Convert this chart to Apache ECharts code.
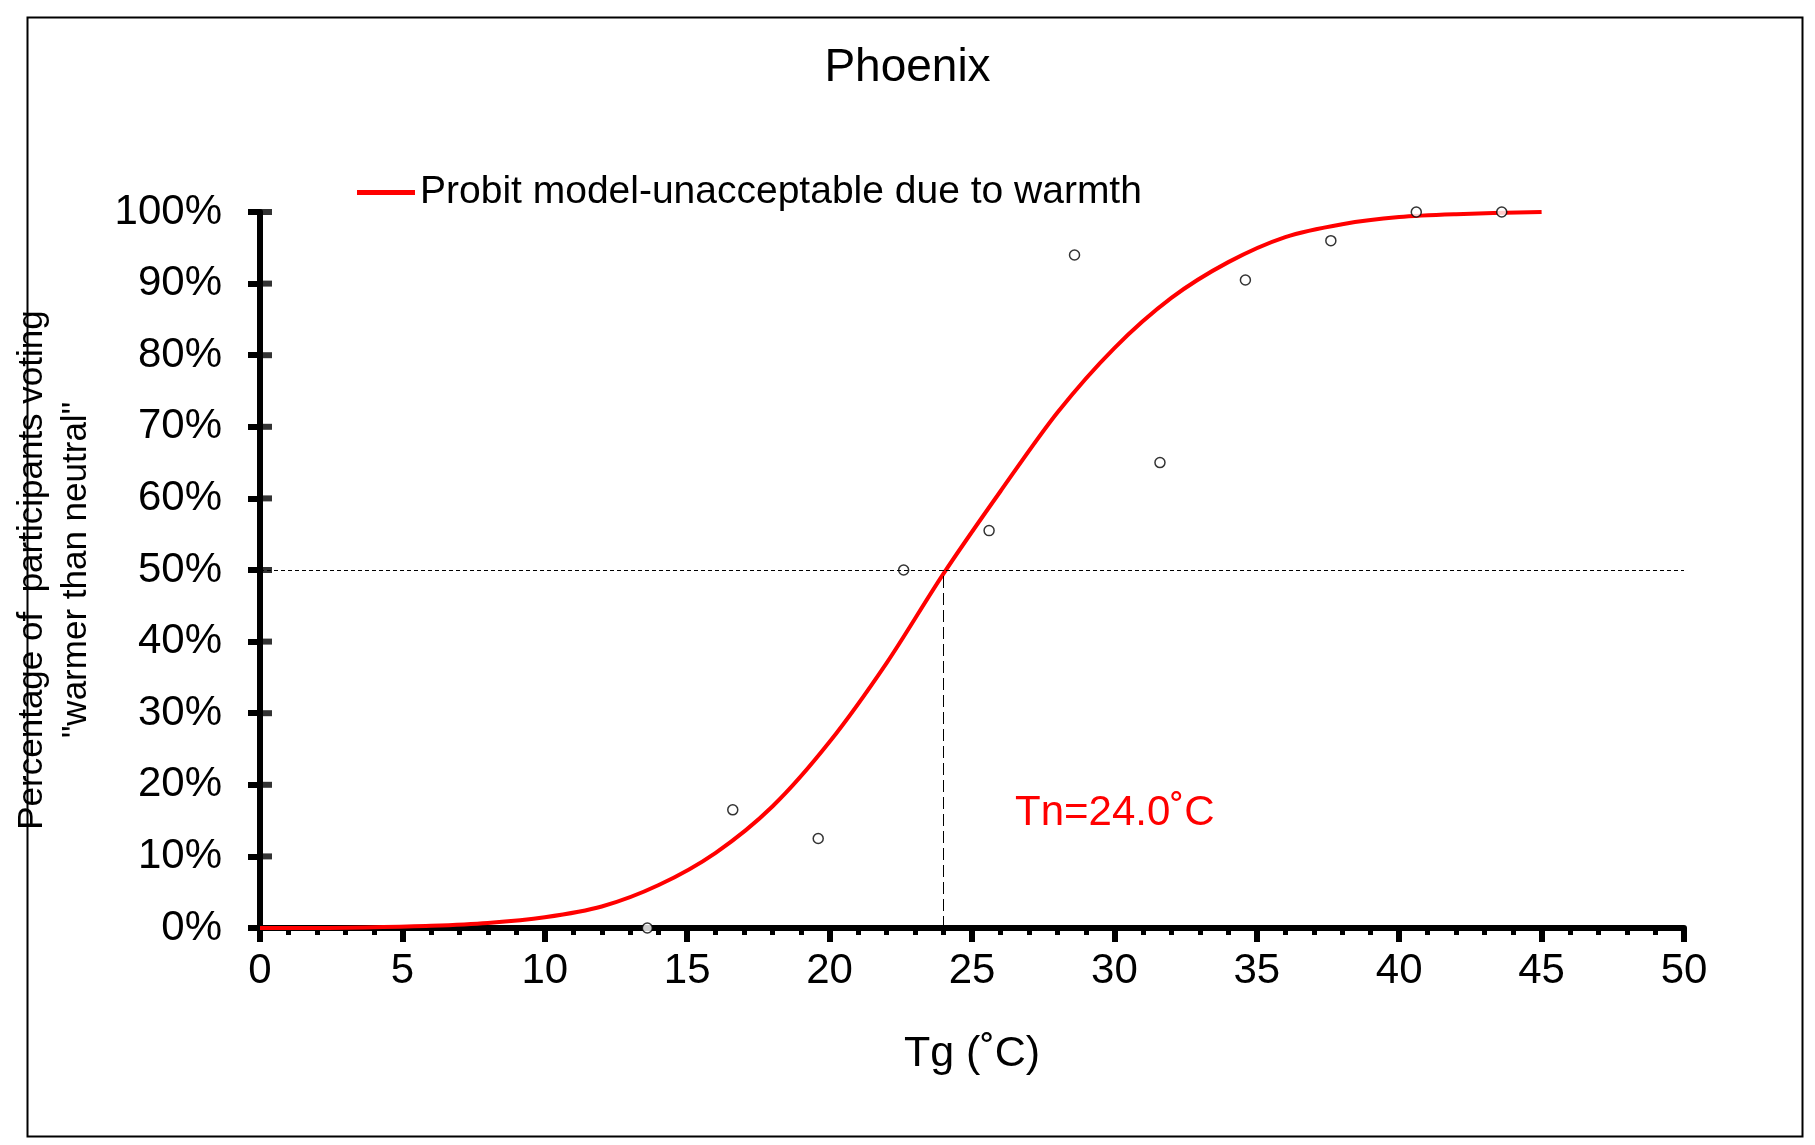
<!DOCTYPE html>
<html><head><meta charset="utf-8">
<script src="https://cdn.jsdelivr.net/npm/echarts@6/dist/echarts.min.js"></script>
<style>html,body{margin:0;background:#fff}#c{width:1815px;height:1145px}</style>
</head><body><div id="c"></div>
<script>
var curveX = [0, 2, 4, 6, 8, 10, 12, 14, 16, 18, 20, 22, 24, 26, 28, 30, 32, 34, 36, 38, 40, 42, 45];
var curveY = [0, 0, 0.1, 0.3, 0.7, 1.5, 3, 6, 10.5, 17, 26, 37, 49.5, 61, 72, 81, 88, 93, 96.5, 98.3, 99.3, 99.7, 100];
var obsX = [13.6, 16.6, 19.6, 22.6, 25.6, 28.6, 31.6, 34.6, 37.6, 40.6, 43.6];
var obsY = [0, 16.5, 12.5, 50, 55.5, 94, 65, 90.5, 96, 100, 100];
var tn = 24.0;

var font = 'Liberation Sans, Arial, sans-serif';
var chart = echarts.init(document.getElementById('c'));
chart.setOption({
    backgroundColor: '#fff',
    animation: false,
    title: {
        text: 'Phoenix', left: 'center', top: 40,
        textStyle: {fontFamily: font, fontSize: 46, fontWeight: 'normal', color: '#000'}
    },
    legend: {
        left: 352, top: 168, itemWidth: 58, itemHeight: 5, itemGap: 4,
        textStyle: {fontFamily: font, fontSize: 39, color: '#000'},
        data: [{name: 'Probit model-unacceptable due to warmth', icon: 'rect'}]
    },
    grid: {left: 260, right: 131, top: 212, bottom: 217},
    xAxis: {
        type: 'value', min: 0, max: 50, interval: 5,
        name: 'Tg (˚C)', nameLocation: 'middle', nameGap: 105,
        nameTextStyle: {fontFamily: font, fontSize: 43, color: '#000'},
        axisLine: {lineStyle: {color: '#000', width: 6}},
        axisTick: {inside: false, length: 14, lineStyle: {color: '#000', width: 6}},
        minorTick: {show: true, splitNumber: 5, length: 7, lineStyle: {color: '#000', width: 5}},
        axisLabel: {fontFamily: font, fontSize: 42, color: '#000', margin: 22},
        splitLine: {show: false}
    },
    yAxis: {
        type: 'value', min: 0, max: 100, interval: 10,
        name: 'Percentage of  participants voting\n"warmer than neutral"',
        nameLocation: 'middle', nameGap: 162,
        nameTextStyle: {fontFamily: font, fontSize: 35, color: '#000', lineHeight: 44},
        axisLine: {lineStyle: {color: '#000', width: 6}},
        axisTick: {length: 12, lineStyle: {color: '#000', width: 6}},
        axisLabel: {fontFamily: font, fontSize: 42, color: '#000', margin: 38, formatter: '{value}%'},
        splitLine: {show: false}
    },
    series: [
        {
            name: 'Probit model-unacceptable due to warmth',
            type: 'line', smooth: 0.3, symbol: 'none',
            color: '#ff0000', lineStyle: {width: 4},
            data: curveX.map(function (x, i) { return [x, curveY[i]]; }),
            markLine: {
                silent: true, symbol: 'none', label: {show: false},
                data: [
                    [{coord: [0, 50], lineStyle: {color: '#000', type: [4, 3], width: 1}}, {coord: [50, 50]}],
                    [{coord: [tn, 0], lineStyle: {color: '#000', type: [12, 5], width: 1}}, {coord: [tn, 50]}]
                ]
            },
            z: 3
        },
        {
            name: 'observed', type: 'scatter', symbol: 'circle', symbolSize: 10,
            itemStyle: {color: '#fff', borderColor: '#000', borderWidth: 1.5},
            data: obsX.map(function (x, i) { return [x, obsY[i]]; }),
            z: 4
        },
        {
            // ticks crossing inside the y axis
            name: 'yticks', type: 'scatter', symbol: 'rect', symbolSize: [12, 6],
            symbolOffset: [6, 0], silent: true,
            itemStyle: {color: '#000'},
            data: [10, 20, 30, 40, 50, 60, 70, 80, 90, 100].map(function (v) { return [0, v]; }),
            z: 5
        }
    ],
    graphic: [
        {type: 'rect', left: 25, top: 15, shape: {width: 1775, height: 1119},
         style: {fill: 'none', stroke: '#000', lineWidth: 2}, silent: true},
        {type: 'text', left: 1015, top: 792,
         style: {text: 'Tn=24.0˚C', font: '42px ' + font, fill: '#ff0000'}}
    ]
});
</script></body></html>
